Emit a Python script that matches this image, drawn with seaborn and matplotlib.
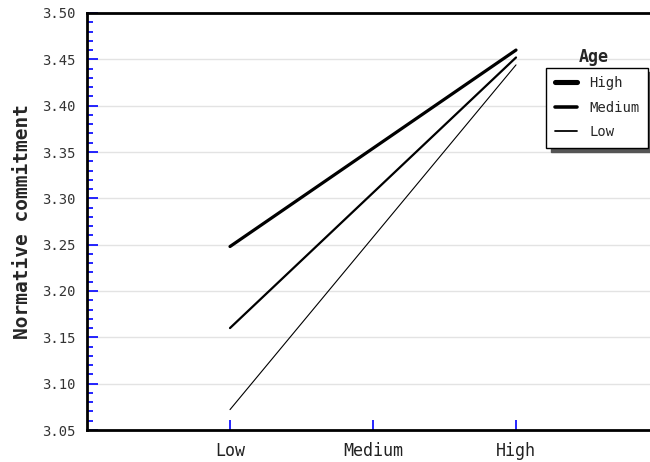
import matplotlib
matplotlib.use("Agg")
import matplotlib.pyplot as plt
from matplotlib.ticker import MultipleLocator, FixedLocator
from matplotlib.lines import Line2D
import seaborn as sns
import pandas as pd

# ---- data ----
categories = ["Low", "Medium", "High"]
age_groups = ["High", "Medium", "Low"]
x_levels = ["Low", "High"]
high_age = [3.248, 3.460]
medium_age = [3.160, 3.452]
low_age = [3.072, 3.444]
y_ticks = [3.05, 3.10, 3.15, 3.20, 3.25, 3.30, 3.35, 3.40, 3.45, 3.50]

series = {"High": high_age, "Medium": medium_age, "Low": low_age}
rows = []
for g in age_groups:
    for lvl, v in zip(x_levels, series[g]):
        rows.append({"Age": g, "Level": lvl, "pos": categories.index(lvl), "value": v})
df = pd.DataFrame(rows)

sns.set_style("white")
plt.rcParams["font.family"] = ["DejaVu Sans Mono", "DejaVu Sans"]

fig = plt.figure(figsize=(6.5, 4.62), dpi=100)
ax = fig.add_axes([87 / 650, 1 - 430 / 462, 1 - 87 / 650, (430 - 13) / 462])

widths = {"High": 2.3, "Medium": 1.6, "Low": 0.8}
sns.lineplot(data=df, x="pos", y="value", hue="Age", size="Age",
             hue_order=age_groups, size_order=age_groups,
             palette={g: "black" for g in age_groups}, sizes=widths,
             ax=ax, legend=False, estimator=None, sort=False)

ax.set_xlim(-1, 2.937)
ax.set_ylim(3.05, 3.50)
ax.set_xticks(range(len(categories)))
ax.set_xticklabels(categories, fontsize=12, color="#222222")
ax.yaxis.set_major_locator(FixedLocator(y_ticks))
ax.set_yticklabels([f"{t:.2f}" for t in y_ticks], fontsize=10, color="#333333")
ax.yaxis.set_minor_locator(MultipleLocator(0.01))
ax.tick_params(axis="y", which="major", direction="in", length=8, width=1.2, color="#0000ff", pad=8, left=True)
ax.tick_params(axis="y", which="minor", direction="in", length=4, width=1.2, color="#0000ff", left=True)
ax.tick_params(axis="x", which="major", direction="in", length=7, width=1.2, color="#0000ff", pad=9, bottom=True)
ax.tick_params(axis="x", which="minor", bottom=False)
ax.set_xlabel("")
ax.set_ylabel("Normative commitment", fontsize=14, fontweight="bold")
ax.yaxis.set_label_coords(-0.098, 0.5)

for t in y_ticks[1:-1]:
    ax.axhline(t, color="#e3e3e3", lw=1.0, zorder=0)

for s in ["left", "top", "bottom"]:
    ax.spines[s].set_visible(True)
    ax.spines[s].set_color("black")
    ax.spines[s].set_linewidth(2.0)
ax.spines["right"].set_visible(False)

handles = [Line2D([], [], color="black", lw=widths[g] * 1.6) for g in age_groups]
leg = ax.legend(handles, age_groups, loc="upper right",
                bbox_to_anchor=(648 / 650, 1 - 68 / 462), bbox_transform=fig.transFigure,
                frameon=True, fancybox=False, shadow={"color": "#555555", "alpha": 1.0, "ox": 3, "oy": -3},
                fontsize=10, handlelength=1.6, handletextpad=0.9, labelspacing=0.75,
                borderpad=0.6, borderaxespad=0)
leg.get_frame().set_edgecolor("black")
leg.get_frame().set_linewidth(1.0)
fig.text(594 / 650, 1 - 57 / 462, "Age", ha="center", va="center",
         fontsize=12, fontweight="bold")

fig.savefig("out.png", dpi=100)
